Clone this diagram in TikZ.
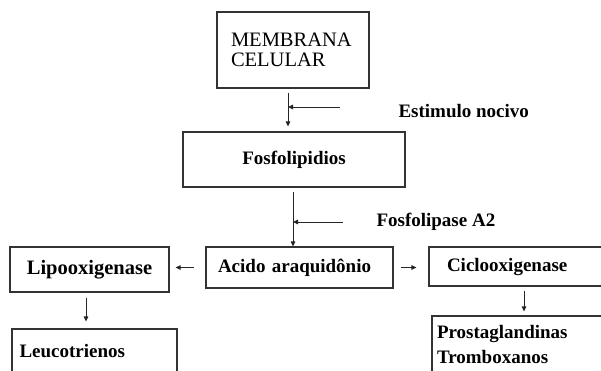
\documentclass[tikz,border=0pt]{standalone}
\usepackage{fontspec}
\setmainfont{Liberation Serif}
\usetikzlibrary{arrows.meta, positioning}

\begin{document}
\begin{tikzpicture}[x=1pt, y=-1pt,
  box/.style={draw=black!80, line width=1.1pt, rectangle, inner sep=0pt, font=\bfseries\fontsize{19}{23}\selectfont},
  arr/.style={draw=black!85, line width=0.9pt, -{Triangle[length=5pt, width=4.5pt]}},
  lbl/.style={anchor=west, font=\bfseries\fontsize{19}{23}\selectfont}
]
  \useasboundingbox (0,0) rectangle (601,370);
  \clip (0,0) rectangle (601,370);

  \node[box, minimum width=152pt, minimum height=76pt, text width=124pt, align=left, font=\fontsize{20.5}{20}\selectfont] (membrana) at (293,50) {MEMBRANA\\CELULAR};
  \node[box, minimum width=222pt, minimum height=55pt] (fosfo) at (294,159.5) {Fosfolipidios};
  \node[box, minimum width=187pt, minimum height=41pt, text width=163pt, align=left] (acido) at (299.5,267.5) {Acido araquidônio};
  \node[box, minimum width=159pt, minimum height=45pt, font=\bfseries\fontsize{20.5}{24}\selectfont] (lipo) at (89.5,269.5) {Lipooxigenase};
  \node[box, minimum width=165pt, minimum height=44pt, text width=150pt, align=left] (leuco) at (94.5,351) {Leucotrienos};
  \node[box, minimum width=180pt, minimum height=39pt, text width=144pt, align=left] (ciclo) at (519,266.5) {Ciclooxigenase};
  \node[box, minimum width=180pt, minimum height=56pt, text width=170pt, align=left, font=\bfseries\fontsize{19}{25}\selectfont] (prosta) at (522,344) {Prostaglandinas\\Tromboxanos};

  \draw[arr, shorten <=4pt, shorten >=5pt] ([xshift=-5pt]membrana.south) -- ([xshift=-5pt]membrana.south |- fosfo.north);
  \coordinate (estimulo) at (340,107);
  \draw[arr] (estimulo) -- ([xshift=-5pt]membrana.south |- estimulo);
  \node[lbl] (estlbl) at (395,111) {Estimulo nocivo};

  \draw[arr, shorten <=4pt] ([xshift=-1pt]fosfo.south) -- ([xshift=-1pt]fosfo.south |- acido.north);
  \coordinate (fosfolipase) at (343,222);
  \draw[arr] (fosfolipase) -- ([xshift=-1pt]fosfo.south |- fosfolipase);
  \node[lbl] (fla2) at (373,222) {Fosfolipase A2};

  \draw[arr, shorten <=11pt, shorten >=6pt] (acido.west) -- (acido.west -| lipo.east);
  \draw[arr, shorten <=7pt, shorten >=12pt] (acido.east) -- (acido.east -| ciclo.west);
  \draw[arr, shorten <=5pt, shorten >=7pt] ([xshift=-3.5pt]lipo.south) -- ([xshift=-3.5pt]lipo.south |- leuco.north);
  \draw[arr, shorten <=4pt, shorten >=4pt] ([xshift=5pt]ciclo.south) -- ([xshift=5pt]ciclo.south |- prosta.north);
\end{tikzpicture}
\end{document}
